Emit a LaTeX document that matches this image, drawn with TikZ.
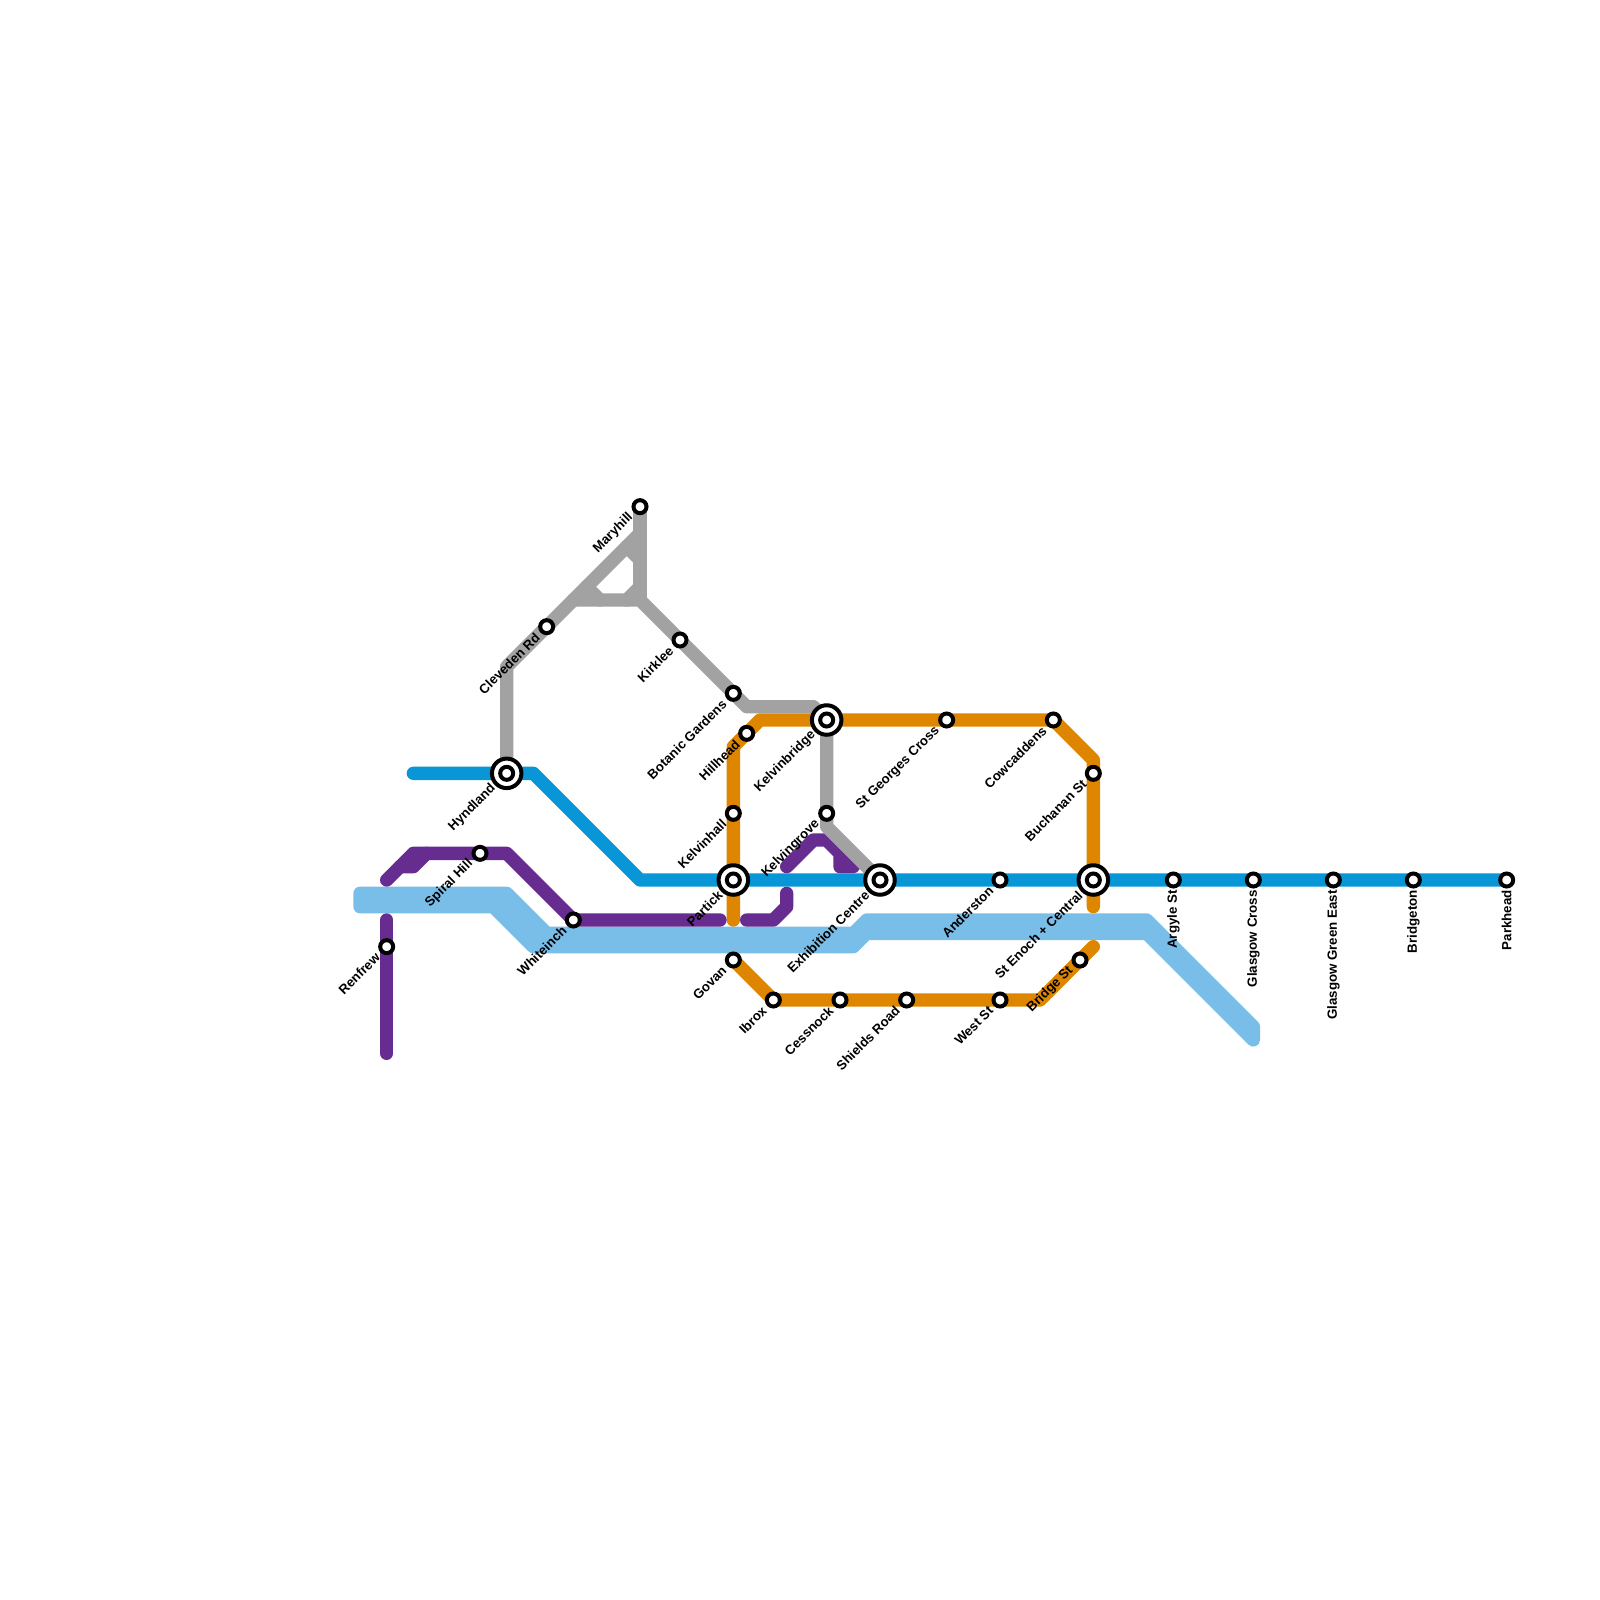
\documentclass[tikz,border=0pt]{standalone}
\usepackage{fontspec}
\setmainfont{Liberation Sans}
\pgfdeclarelayer{lines}
\pgfsetlayers{lines,main}
\definecolor{cblue}{HTML}{0896D7}
\definecolor{cpurple}{HTML}{662C90}
\definecolor{corange}{HTML}{DF8600}
\definecolor{cgrey}{HTML}{A2A2A2}
\definecolor{csky}{HTML}{79BDE9}
\tikzset{
  metro/.style={line width=13.33pt,line cap=round,line join=round},
  stop/.style={circle,draw=black,fill=white,line width=4pt,outer sep=0pt,minimum size=13pt,inner sep=0pt},
  hub/.style={circle,draw=black,fill=white,line width=4pt,outer sep=0pt,minimum size=29.5pt,inner sep=0pt},
  lab/.style={font=\bfseries\fontsize{13.2}{16}\selectfont,text=black,inner sep=0pt,anchor=east,rotate=45},
  vlab/.style={font=\bfseries\fontsize{13.33}{16}\selectfont,text=black,inner sep=0pt,anchor=east,rotate=90},
}
\newcommand{\stnode}[3]{\node[stop] (#1) at (#2,#3) {};}
\newcommand{\hubnode}[3]{\node[hub] (#1h) at (#2,#3) {};\node[stop] (#1) at (#2,#3) {};}
\newcommand{\stlab}[2]{\node[lab] (#1l) at ([shift={(-9,8.5)}]#1.center) {#2};}
\newcommand{\hublab}[2]{\node[lab] (#1l) at ([shift={(-13,13)}]#1.center) {#2};}
\newcommand{\vstlab}[2]{\node[vlab] (#1l) at ([shift={(0,10)}]#1.center) {#2};}
\begin{document}
\begin{tikzpicture}[x=1pt,y=-1pt]
\useasboundingbox (0,0) rectangle (1600,1600);
% stations
\stnode{maryhill}{640}{506.67}
\stnode{cleveden}{546.67}{626.67}
\stnode{kirklee}{680}{640}
\stnode{botanic}{733.33}{693.33}
\hubnode{hyndland}{506.67}{773.33}
\stnode{spiral}{480}{853.33}
\stnode{whiteinch}{573.33}{920}
\stnode{renfrew}{386.67}{946.67}
\hubnode{partick}{733.33}{880}
\stnode{kelvinhall}{733.33}{813.33}
\stnode{govan}{733.33}{960}
\stnode{hillhead}{746.67}{733.33}
\hubnode{kelvinbridge}{826.67}{720}
\stnode{georges}{946.67}{720}
\stnode{cowcaddens}{1053.33}{720}
\stnode{buchanan}{1093.33}{773.33}
\stnode{kelvingrove}{826.67}{813.33}
\hubnode{exhibition}{880}{880}
\stnode{anderston}{1000}{880}
\hubnode{enoch}{1093.33}{880}
\stnode{ibrox}{773.33}{1000}
\stnode{cessnock}{840}{1000}
\stnode{shields}{906.67}{1000}
\stnode{west}{1000}{1000}
\stnode{bridge}{1080}{960}
\stnode{argyle}{1173.33}{880}
\stnode{gcross}{1253.33}{880}
\stnode{ggreen}{1333.33}{880}
\stnode{bridgeton}{1413.33}{880}
\stnode{parkhead}{1506.67}{880}
% labels
\stlab{maryhill}{Maryhill}
\stlab{cleveden}{Cleveden Rd}
\stlab{kirklee}{Kirklee}
\stlab{botanic}{Botanic Gardens}
\hublab{hyndland}{Hyndland}
\stlab{spiral}{Spiral Hill}
\stlab{whiteinch}{Whiteinch}
\stlab{renfrew}{Renfrew}
\hublab{partick}{Partick}
\stlab{kelvinhall}{Kelvinhall}
\stlab{govan}{Govan}
\stlab{hillhead}{Hillhead}
\hublab{kelvinbridge}{Kelvinbridge}
\stlab{georges}{St Georges Cross}
\stlab{cowcaddens}{Cowcaddens}
\stlab{buchanan}{Buchanan St}
\stlab{kelvingrove}{Kelvingrove}
\hublab{exhibition}{Exhibition Centre}
\stlab{anderston}{Anderston}
\hublab{enoch}{St Enoch + Central}
\stlab{ibrox}{Ibrox}
\stlab{cessnock}{Cessnock}
\stlab{shields}{Shields Road}
\stlab{west}{West St}
\stlab{bridge}{Bridge St}
\vstlab{argyle}{Argyle St}
\vstlab{gcross}{Glasgow Cross}
\vstlab{ggreen}{Glasgow Green East}
\vstlab{bridgeton}{Bridgeton}
\vstlab{parkhead}{Parkhead}
% free ends and bends
\coordinate (bA) at (413.33,773.33);
\coordinate (bB) at (533.33,773.33);
\coordinate (bC) at (640,880);
\coordinate (gA) at (506.67,666.67);
\coordinate (gB) at (640,533.33);
\coordinate (gC) at (640,600);
\coordinate (gD) at (573.33,600);
\coordinate (gE) at (746.67,706.67);
\coordinate (gF) at (813.33,706.67);
\coordinate (gG) at (826.67,826.67);
\coordinate (gS1) at (586.67,586.67);
\coordinate (gS2) at (600,600);
\coordinate (gS3) at (626.67,546.67);
\coordinate (gS4) at (640,560);
\coordinate (gS5) at (640,586.67);
\coordinate (gS6) at (626.67,600);
\coordinate (pA) at (386.67,880);
\coordinate (pB) at (413.33,853.33);
\coordinate (pC) at (506.67,853.33);
\coordinate (pD) at (720,920);
\coordinate (pE) at (400,866.67);
\coordinate (pF) at (413.33,866.67);
\coordinate (pG) at (426.67,853.33);
\coordinate (pH) at (386.67,920);
\coordinate (pI) at (386.67,1053.33);
\coordinate (pJ) at (746.67,920);
\coordinate (pK) at (773.33,920);
\coordinate (pL) at (786.67,906.67);
\coordinate (pM) at (786.67,893.33);
\coordinate (pN) at (786.67,866.67);
\coordinate (pO) at (813.33,840);
\coordinate (pP) at (826.67,840);
\coordinate (pQ) at (853.33,866.67);
\coordinate (pR) at (840,866.67);
\coordinate (pS) at (840,853.33);
\coordinate (oA) at (733.33,920);
\coordinate (oB) at (733.33,746.67);
\coordinate (oC) at (760,720);
\coordinate (oD) at (1093.33,760);
\coordinate (oE) at (1093.33,906.67);
\coordinate (oF) at (1040,1000);
\coordinate (oG) at (1093.33,946.67);
\begin{pgfonlayer}{lines}
\fill[white] (0,0) rectangle (1600,1600);
% light blue band
\filldraw[metro,draw=csky,fill=csky] (360,893.33) -- (506.67,893.33) -- (546.67,933.33) -- (853.33,933.33) -- (866.67,920) -- (1146.67,920) -- (1253.33,1026.67) -- (1253.33,1040) -- (1146.67,933.33) -- (866.67,933.33) -- (853.33,946.67) -- (533.33,946.67) -- (493.33,906.67) -- (360,906.67) -- cycle;
% orange
\draw[metro,corange] (oA) -- (partick.center) -- (kelvinhall.center) -- (oB) -- (oC) -- (kelvinbridge.center) -- (georges.center) -- (cowcaddens.center) -- (oD) -- (buchanan.center) -- (enoch.center) -- (oE);
\draw[metro,corange] (govan.center) -- (ibrox.center) -- (cessnock.center) -- (shields.center) -- (west.center) -- (oF) -- (bridge.center) -- (oG);
% purple
\draw[metro,cpurple] (pA) -- (pB) -- (spiral.center) -- (pC) -- (whiteinch.center) -- (pD);
\draw[metro,cpurple] (pE) -- (pF) -- (pG);
\draw[metro,cpurple] (pH) -- (renfrew.center) -- (pI);
\draw[metro,cpurple] (pJ) -- (pK) -- (pL) -- (pM);
\draw[metro,cpurple] (pN) -- (pO) -- (pP) -- (pQ) -- (pR) -- (pS);
% grey
\draw[metro,cgrey] (hyndland.center) -- (gA) -- (cleveden.center) -- (gB);
\draw[metro,cgrey] (maryhill.center) -- (gC);
\draw[metro,cgrey] (gD) -- (gC) -- (kirklee.center) -- (botanic.center) -- (gE) -- (gF) -- (kelvinbridge.center) -- (kelvingrove.center) -- (gG) -- (exhibition.center);
\draw[metro,cgrey] (gS1) -- (gS2);
\draw[metro,cgrey] (gS3) -- (gS4);
\draw[metro,cgrey] (gS5) -- (gS6);
% blue
\draw[metro,cblue] (bA) -- (hyndland.center) -- (bB) -- (bC) -- (partick.center) -- (exhibition.center) -- (anderston.center) -- (enoch.center) -- (argyle.center) -- (gcross.center) -- (ggreen.center) -- (bridgeton.center) -- (parkhead.center);
\end{pgfonlayer}
\end{tikzpicture}
\end{document}
